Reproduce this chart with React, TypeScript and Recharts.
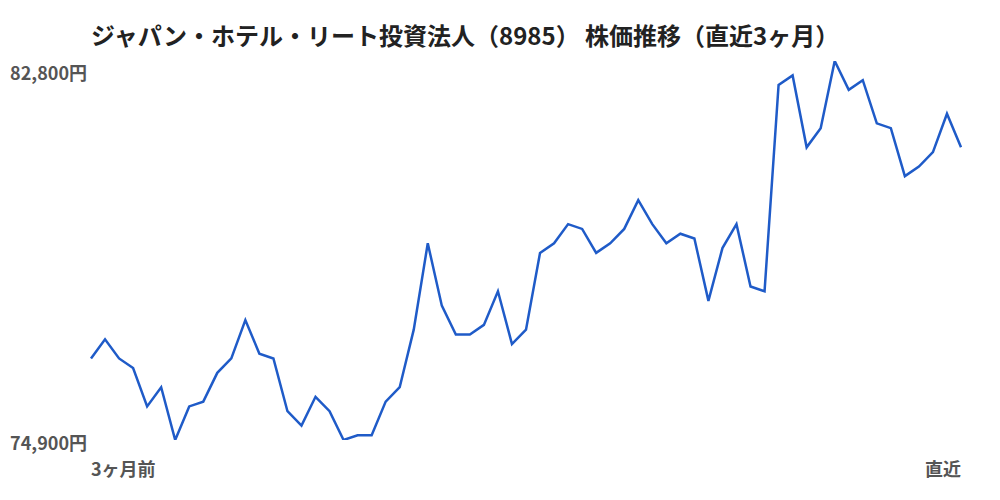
import React from 'react';
import { LineChart, Line, XAxis, YAxis } from 'recharts';

const prices: number[] = [
  76600, 77000, 76600, 76400, 75600, 76000, 74900, 75600, 75700, 76300,
  76600, 77400, 76700, 76600, 75500, 75200, 75800, 75500, 74900, 75000,
  75000, 75700, 76000, 77200, 79000, 77700, 77100, 77100, 77300, 78000,
  76900, 77200, 78800, 79000, 79400, 79300, 78800, 79000, 79300, 79900,
  79400, 79000, 79200, 79100, 77800, 78900, 79400, 78100, 78000, 82300,
  82500, 81000, 81400, 82800, 82200, 82400, 81500, 81400, 80400, 80600,
  80900, 81700, 81000,
];
const days: string[] = prices.map((_, i) => `D${i + 1}`);
const xTickLabels: string[] = ['3ヶ月前', '直近'];
const yTicks: number[] = [74900, 82800];
const title = 'ジャパン・ホテル・リート投資法人（8985） 株価推移（直近3ヶ月）';

const data = days.map((d, i) => ({ day: d, price: prices[i] }));

const FONT = '"Noto Sans CJK JP", "Noto Sans", sans-serif';

const XTick = (props: any) => {
  const { x, y, payload } = props;
  const isFirst = payload.value === days[0];
  return (
    <text
      x={x}
      y={y}
      dy={20}
      textAnchor={isFirst ? 'start' : 'end'}
      fill="#555"
      fontSize={18}
      fontWeight={700}
      fontFamily={FONT}
      dominantBaseline="central"
    >
      {isFirst ? xTickLabels[0] : xTickLabels[1]}
    </text>
  );
};

const YTick = (props: any) => {
  const { x, y, payload } = props;
  const isTop = payload.value === yTicks[1];
  return (
    <text
      x={x}
      y={y}
      dy={isTop ? 11 : 2}
      textAnchor="end"
      fill="#555"
      fontSize={18}
      fontWeight={700}
      fontFamily={FONT}
      dominantBaseline="central"
    >
      {payload.value.toLocaleString('en-US')}円
    </text>
  );
};

export default function App() {
  return (
    <div style={{ position: 'absolute', left: 0, top: 0, width: 1000, height: 500, background: '#fff' }}>
      <div
        style={{
          position: 'absolute',
          left: 91,
          top: 23,
          fontFamily: FONT,
          fontSize: 24,
          lineHeight: '24px',
          fontWeight: 700,
          color: '#222',
          whiteSpace: 'nowrap',
        }}
      >
        {title}
      </div>
      <LineChart width={1000} height={500} data={data} margin={{ top: 61, right: 39, bottom: 0, left: 0 }}>
        <XAxis
          dataKey="day"
          ticks={[days[0], days[days.length - 1]]}
          interval={0}
          axisLine={false}
          tickLine={false}
          tick={<XTick />}
          height={60}
        />
        <YAxis
          domain={[74900, 82800]}
          ticks={yTicks}
          axisLine={false}
          tickLine={false}
          tickSize={0}
          tickMargin={4}
          width={91}
          tick={<YTick />}
          allowDataOverflow
        />
        <Line
          type="linear"
          dataKey="price"
          stroke="#1f5bc8"
          strokeWidth={2.5}
          dot={false}
          isAnimationActive={false}
        />
      </LineChart>
    </div>
  );
}
